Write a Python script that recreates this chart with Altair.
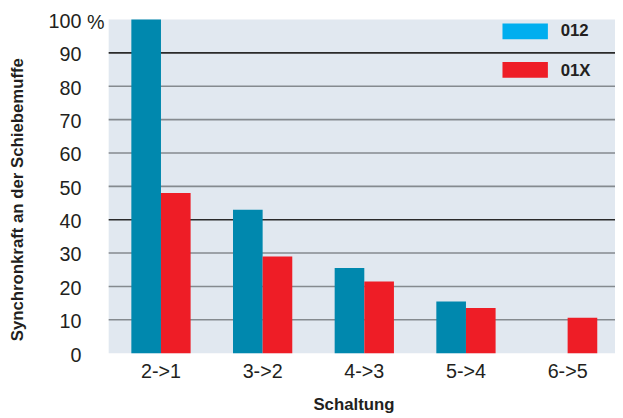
import altair as alt
import pandas as pd

categories = ["2->1", "3->2", "4->3", "5->4", "6->5"]
series = ["012", "01X"]
values_012 = [100, 43, 25.5, 15.5, None]
values_01x = [48, 29, 21.5, 13.5, 10.6]
grid_values = [10, 20, 30, 40, 50, 60, 70, 80, 90]
y_ticks = [0, 10, 20, 30, 40, 50, 60, 70, 80, 90, 100]

bar_colors = ["#0088AE", "#EE1D26"]
legend_colors = ["#00AEEF", "#EE1D26"]
FONT = "Liberation Sans"

rows = []
for c, a, b in zip(categories, values_012, values_01x):
    if a is not None:
        rows.append({"cat": c, "series": series[0], "val": a})
    if b is not None:
        rows.append({"cat": c, "series": series[1], "val": b})
df = pd.DataFrame(rows)

yscale = alt.Scale(domain=[0, 100], nice=False, zero=True)
y_axis = alt.Axis(title="Synchronkraft an der Schiebemuffe", values=y_ticks, grid=False,
                  ticks=False, domain=False, labelFontSize=20, labelFont=FONT,
                  labelColor="#231F20", labelPadding=28, labelOffset=2,
                  titleFont=FONT, titleFontSize=17, titleFontWeight="bold", titleColor="#231F20",
                  titleX=-92, titleY=182, titleAngle=-90, titleBaseline="middle", titleAlign="center")

grid = alt.Chart(pd.DataFrame({"v": grid_values})).mark_rule(strokeWidth=1.6).encode(
    y=alt.Y("v:Q", scale=yscale, axis=y_axis),
    color=alt.condition("datum.v == 90 || datum.v == 40", alt.value("#2a2a2a"), alt.value("#858a8f")),
)

bars = alt.Chart(df).mark_bar().encode(
    x=alt.X("cat:N", sort=categories,
            scale=alt.Scale(domain=categories, range=[0, 518], paddingInner=0.417, paddingOuter=0.223),
            axis=alt.Axis(title="Schaltung", labelFontSize=20, labelFont=FONT, labelColor="#231F20",
                          labelAngle=0, labelPadding=9, ticks=False, domain=False,
                          titleFont=FONT, titleFontSize=17, titleFontWeight="bold", titleColor="#231F20",
                          titleX=248, titleY=52, titleBaseline="middle", titleAnchor="start", titleAlign="center")),
    xOffset=alt.XOffset("series:N", sort=series,
                        scale=alt.Scale(domain=series, paddingInner=0, paddingOuter=0)),
    y=alt.Y("val:Q", scale=yscale, axis=y_axis),
    color=alt.Color("series:N", scale=alt.Scale(domain=series, range=bar_colors), legend=None),
)

pct = alt.Chart(pd.DataFrame({"t": ["%"]})).mark_text(
    font=FONT, fontSize=20, color="#231F20", align="center", baseline="middle"
).encode(text="t:N", x=alt.value(-13), y=alt.value(4))

leg_layers = []
ys = [(4, 20, 12), (43, 59, 52)]
for s, col, (y1, y2, yt) in zip(series, legend_colors, ys):
    d = pd.DataFrame({"series": [s]})
    leg_layers.append(alt.Chart(d).mark_rect(color=col).encode(
        x=alt.value(399), x2=alt.value(445), y=alt.value(y1), y2=alt.value(y2)))
    leg_layers.append(alt.Chart(d).mark_text(font=FONT, fontSize=17, fontWeight="bold",
                                             color="#231F20", align="left", baseline="middle").encode(
        text="series:N", x=alt.value(458), y=alt.value(yt)))

chart = alt.layer(grid, bars, pct, *leg_layers).properties(
    width=513, height=338,
    autosize=alt.AutoSizeParams(type="none"),
    padding={"left": 102, "top": 9, "right": 0, "bottom": 62},
    background="white",
).configure_view(fill="#E1E8F0", strokeWidth=0)

chart.save("out.html", embed_options={"renderer": "svg", "actions": False})
